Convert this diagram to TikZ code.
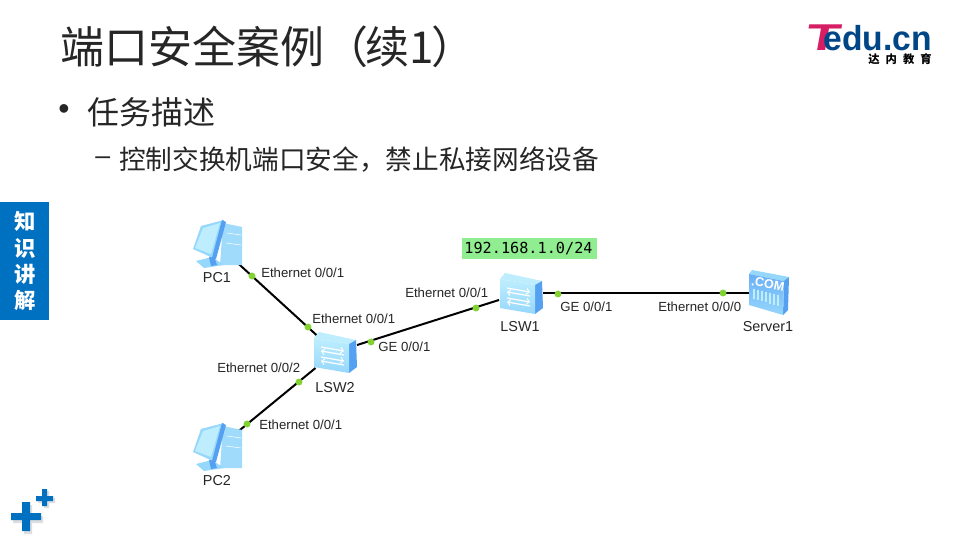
\documentclass[tikz,border=0pt]{standalone}
\usepackage{fontspec}
\setmainfont{Noto Sans CJK SC}
\newfontfamily\labelfont{Liberation Sans}
\newfontfamily\netfont{DejaVu Sans Mono}
\usepackage{xcolor}
\usepackage{tikz}
\usetikzlibrary{positioning}
\definecolor{tedublau}{RGB}{0,112,192}
\definecolor{logoblau}{RGB}{0,70,135}
\definecolor{logopink}{RGB}{214,30,100}
\definecolor{portgruen}{RGB}{130,210,50}
\definecolor{netgruen}{RGB}{144,238,144}
\definecolor{iconhell}{RGB}{190,238,253}
\definecolor{iconmitte}{RGB}{150,215,252}
\definecolor{icondunkel}{RGB}{85,160,240}
\definecolor{serverblau}{RGB}{105,175,245}
\definecolor{schatten}{RGB}{222,222,222}
\tikzset{
    pcicon/.pic={
        \fill[iconmitte!90!white] (5,-22) -- (24,-18) -- (24,20) -- (2,20) -- cycle;
        \fill[iconmitte] (-22,16) -- (-6,12) -- (6,20) -- (-14,23) -- cycle;
        \fill[icondunkel] (-9,12) -- (-4,11) -- (-1,20) -- (-7,21) -- cycle;
        \fill[iconmitte] (-25,4) -- (-17,-19) -- (6,-25) -- (-5,13) -- cycle;
        \fill[iconhell] (-23,3) -- (-15,-17) -- (2,-22) -- (-7,9) -- cycle;
        \fill[icondunkel] (4,-25) -- (8,-23) -- (-2,14) -- (-6,13) -- cycle;
        \draw[white,line width=0.4pt] (9,-12) -- (23,-10) (8,-2) -- (23,0);
    },
    switchicon/.pic={
        \fill[iconhell] (-21,-14) -- (-16,-20) -- (21,-12) -- (14,-8) -- cycle;
        \fill[icondunkel] (14,-8) -- (21,-12) -- (22,15) -- (14,21) -- cycle;
        \shade[top color=iconhell, bottom color=iconmitte] (-21,-14) -- (14,-8) -- (14,21) -- (-21,15) -- cycle;
        \draw[white,line width=0.9pt,->] (-14,-5) -- (9,-1);
        \draw[white,line width=0.9pt,<-] (-14,-1) -- (9,3);
        \draw[white,line width=0.9pt,->] (-14,5) -- (9,9);
        \draw[white,line width=0.9pt,<-] (-14,9) -- (9,13);
    },
    servericon/.pic={
        \fill[iconmitte] (-16,-23) -- (21,-16) -- (16,-12) -- (-19,-19) -- cycle;
        \fill[icondunkel] (16,-12) -- (21,-16) -- (20,17) -- (15,22) -- cycle;
        \shade[top color=serverblau, bottom color=iconmitte] (-19,-19) -- (16,-12) -- (15,22) -- (-19,12) -- cycle;
        \foreach \xbar in {-14,-10,-6,-2,2,6,10}
            \draw[iconhell,line width=0.8pt] (\xbar,{-1+0.25*\xbar}) -- (\xbar,{10+0.3*\xbar});
    }
}
\begin{document}
\begin{tikzpicture}[
        x=0.75pt, y=-0.75pt,
        titletext/.style={anchor=west, inner sep=0pt, font=\fontsize{33}{38}\selectfont, text=black!85},
        bullettext/.style={anchor=west, inner sep=0pt, font=\fontsize{24}{29}\selectfont, text=black!85},
        subtext/.style={anchor=west, inner sep=0pt, font=\fontsize{20}{25}\selectfont, text=black!85},
        device/.style={inner sep=0pt, outer sep=0pt, minimum width=#1},
        port/.style={circle, fill=portgruen, inner sep=0pt, minimum size=5.2pt},
        iflabel/.style={anchor=west, inner sep=0pt, font=\labelfont\fontsize{9.9}{12}\selectfont, text=black!85},
        devlabel/.style={inner sep=0pt, font=\labelfont\fontsize{10.8}{12}\selectfont, text=black!85},
        link/.style={black, line width=1.5pt}
    ]
        \useasboundingbox (0,0) rectangle (960,540);
        \fill[white] (0,0) rectangle (960,540);

        \node[titletext] (title) at (60,47) {端口安全案例（\hspace{-2pt}续1\hspace{-2pt}）};
        \node[bullettext, font=\labelfont\fontsize{24}{29}\selectfont] (bulletdot) at (58,112) {•};
        \node[bullettext] (task) at (87,112) {任务描述};
        \node[subtext, font=\labelfont\fontsize{20}{25}\selectfont] (subdash) at (95,161) {–};
        \node[subtext] (subtask) at (119,160) {控制交换机端口安全，禁止私接网络设备};

        \node[fill=tedublau, minimum width=36.75pt, minimum height=88.5pt, inner sep=0pt, anchor=north west] (sidebar) at (0,202) {};
        \node[align=center, inner sep=0pt, text=white, font=\fontsize{16}{19.8}\selectfont\bfseries] (sidetext) at (sidebar.center) {知\\识\\讲\\解};

        \node[anchor=base west, inner sep=0pt, text=logopink, font=\labelfont\bfseries\fontsize{28}{28}\selectfont, xscale=1.5, xslant=0.12] (logot) at (804,50.5) {T};
        \node[anchor=base east, inner sep=0pt, text=logoblau, font=\labelfont\bfseries\fontsize{26}{26}\selectfont, xscale=0.97] (logotext) at (932,50.5) {edu.cn};
        \node[anchor=east, inner sep=0pt, text=black, font=\fontsize{8.5}{9}\selectfont\bfseries] (logocn) at (932,59) {达\hspace{4.5pt}内\hspace{4.5pt}教\hspace{4.5pt}育};

        \fill[schatten] (13,516) rectangle (43,523) (24,505) rectangle (32,534);
        \fill[schatten] (38,498) rectangle (55,503) (44,491) rectangle (49,508);
        \fill[tedublau] (11,513) rectangle (41,520) (22,502) rectangle (30,531);
        \fill[tedublau] (36,496) rectangle (53,501) (42,489) rectangle (47,506);

        \node[fill=netgruen, minimum width=101.25pt, minimum height=15.75pt, inner sep=0pt] (netbox) at (529.5,248.5) {};
        \node[inner sep=0pt, text=black, font=\netfont\fontsize{11.4}{13}\selectfont, xshift=-0.75pt] (nettext) at (netbox.center) {192.168.1.0/24};

        \node[device=31.5pt, minimum height=30pt] (pc1) at (218,245) {};
        \node[device=31.5pt, minimum height=30pt] (pc2) at (218,448) {};
        \node[device=33pt, minimum height=24pt] (lsw2) at (335,352) {};
        \node[device=33pt, minimum height=24pt] (lsw1) at (521,293) {};
        \node[device=27pt, minimum height=30pt] (server1) at (768,293) {};

        \draw[link] (pc1) -- (lsw2);
        \draw[link] (pc2) -- (lsw2);
        \draw[link] (lsw2) -- (lsw1);
        \draw[link] (lsw1) -- (server1);

        \pic at (pc1) {pcicon};
        \pic at (pc2) {pcicon};
        \pic at (lsw2) {switchicon};
        \pic at (lsw1) {switchicon};
        \pic at (server1) {servericon};
        \node[inner sep=0pt, text=white, rotate=-11, font=\labelfont\bfseries\fontsize{9.5}{10}\selectfont] (servertext) at (768,284) {.COM};

        \node[port] (p1a) at (252,276) {};
        \node[port] (p1b) at (308,327) {};
        \node[port] (p2a) at (247,424) {};
        \node[port] (p2b) at (299,382) {};
        \node[port] (l2a) at (371,342) {};
        \node[port] (l1a) at (476,308) {};
        \node[port] (l1b) at (558,294) {};
        \node[port] (s1a) at (723,293) {};

        \node[iflabel] (p1alabel) at (261,273) {Ethernet 0/0/1};
        \node[iflabel] (p1blabel) at (312,319) {Ethernet 0/0/1};
        \node[iflabel] (p2blabel) at (217,368) {Ethernet 0/0/2};
        \node[iflabel] (p2alabel) at (259,425) {Ethernet 0/0/1};
        \node[iflabel] (l2alabel) at (378,347) {GE 0/0/1};
        \node[iflabel] (l1alabel) at (405,293) {Ethernet 0/0/1};
        \node[iflabel] (l1blabel) at (560,307) {GE 0/0/1};
        \node[iflabel] (s1alabel) at (658,307) {Ethernet 0/0/0};

        \node[devlabel] (pc1label) at (217,278) {PC1};
        \node[devlabel] (pc2label) at (217,481) {PC2};
        \node[devlabel] (lsw2label) at (335,388) {LSW2};
        \node[devlabel] (lsw1label) at (520,327) {LSW1};
        \node[devlabel] (server1label) at (768,327) {Server1};
    \end{tikzpicture}
\end{document}
